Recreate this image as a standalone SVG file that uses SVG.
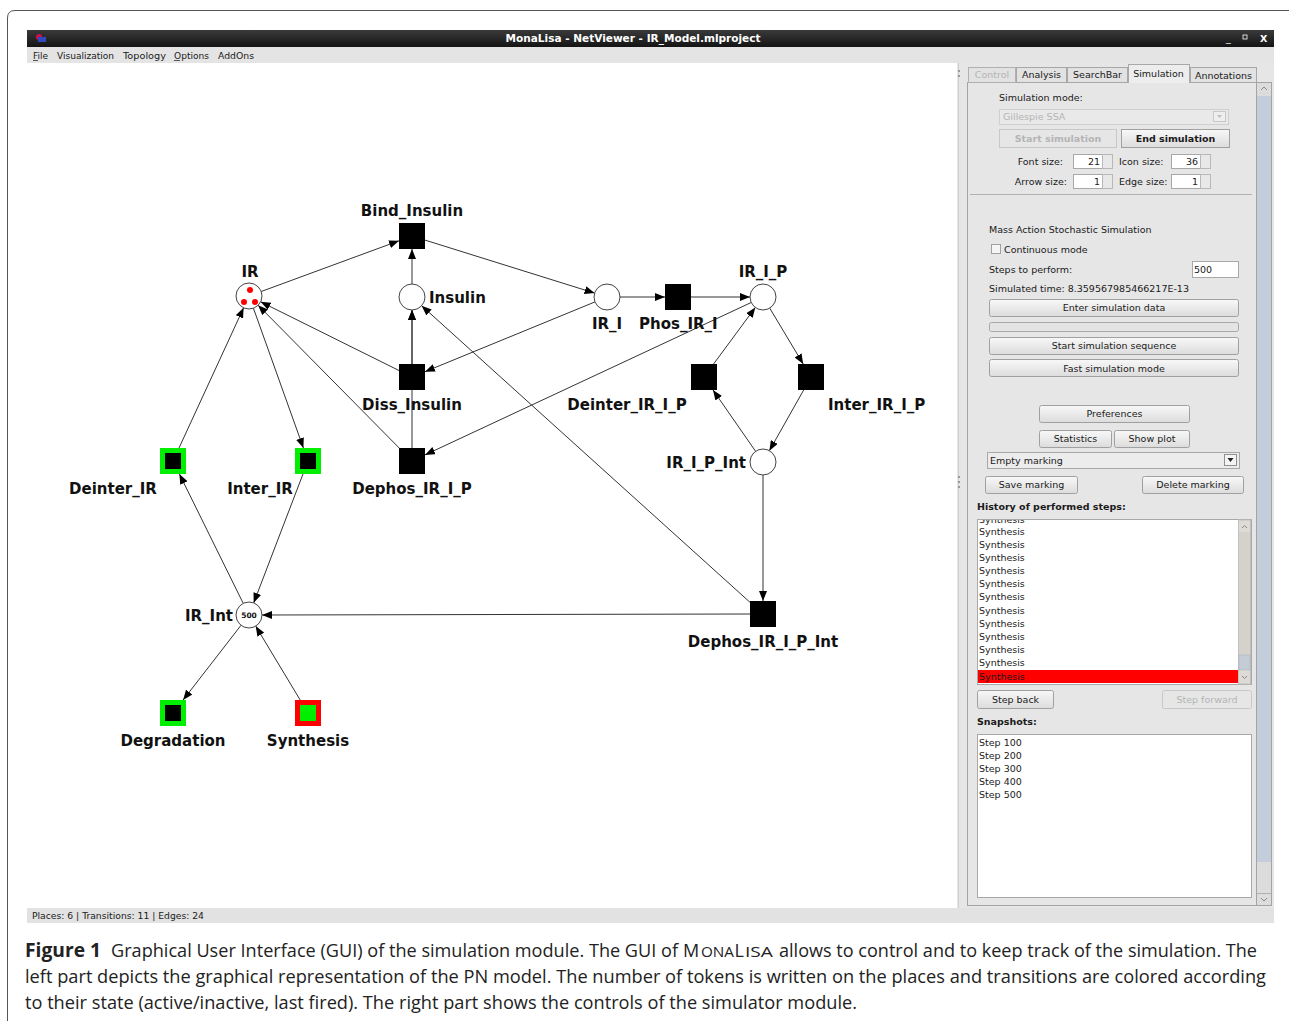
<svg xmlns="http://www.w3.org/2000/svg" width="1289" height="1021" viewBox="0 0 1289 1021">
<defs>
<linearGradient id="tb" x1="0" y1="0" x2="0" y2="1"><stop offset="0" stop-color="#3a3a3a"/><stop offset="1" stop-color="#141414"/></linearGradient>
<linearGradient id="bg" x1="0" y1="0" x2="0" y2="1"><stop offset="0" stop-color="#f8f8f8"/><stop offset="1" stop-color="#dcdcdc"/></linearGradient>
<clipPath id="listclip"><rect x="978" y="520" width="260" height="164"/></clipPath>
<marker id="arr" markerUnits="userSpaceOnUse" markerWidth="10" markerHeight="8" refX="10" refY="4" orient="auto"><path d="M0,0 L10,4 L0,8 z" fill="#000"/></marker>
<style>
.ui{font-family:"DejaVu Sans",sans-serif;font-size:9.5px;fill:#1a1a1a}
.menu{font-family:"DejaVu Sans",sans-serif;font-size:9px;fill:#1a1a1a}
.b{font-weight:bold}
.dis{fill:#b4b4b4}
.btn{fill:url(#bg);stroke:#a0a0a0;stroke-width:1}
.dbtn{fill:#e6e6e6;stroke:#c8c8c8;stroke-width:1}
.field{fill:#fff;stroke:#a8a8a8;stroke-width:1}
.lbl{font-family:"DejaVu Sans",sans-serif;font-weight:bold;font-size:15px;fill:#111}
.edge{stroke:#333;stroke-width:1;fill:none;marker-end:url(#arr)}
.place{fill:#fff;stroke:#444;stroke-width:1}
.trans{fill:#000}
.cap{font-family:"Open Sans","Liberation Sans",sans-serif;font-size:18px;fill:#222}
.sc{font-family:"Open Sans","Liberation Sans",sans-serif;font-size:14.5px;fill:#222}
</style>
</defs>
<rect x="0" y="0" width="1289" height="1021" fill="#fff"/>
<path d="M7.5,1021 V18 Q7.5,10.5 15,10.5 H1289" fill="none" stroke="#555" stroke-width="1"/>

<g id="window">
<rect x="27" y="30" width="1247" height="17" fill="url(#tb)"/>
<circle cx="39" cy="37" r="3" fill="#d0104a"/><rect x="38" y="37" width="8" height="5" fill="#3048c0"/>
<text x="633" y="42" text-anchor="middle" class="ui b" style="fill:#fff;font-size:10.5px" textLength="255" lengthAdjust="spacingAndGlyphs">MonaLisa - NetViewer - IR_Model.mlproject</text>
<text x="1226" y="42" class="ui" style="fill:#fff">_</text>
<rect x="1243" y="35" width="4" height="4" fill="none" stroke="#fff" stroke-width="0.8"/>
<text x="1260" y="42" class="ui b" style="fill:#fff">X</text>
<rect x="27" y="47" width="1247" height="16" fill="#e4e4e4"/>
<text x="33" y="59" class="menu">File</text><line x1="33" y1="60.5" x2="38" y2="60.5" stroke="#1a1a1a" stroke-width="0.7"/>
<text x="57" y="59" class="menu" textLength="57" lengthAdjust="spacingAndGlyphs">Visualization</text>
<text x="123" y="59" class="menu" textLength="43" lengthAdjust="spacingAndGlyphs">Topology</text>
<text x="174" y="59" class="menu" textLength="35" lengthAdjust="spacingAndGlyphs">Options</text>
<line x1="174" y1="60.5" x2="180" y2="60.5" stroke="#1a1a1a" stroke-width="0.7"/>
<text x="218" y="59" class="menu" textLength="36" lengthAdjust="spacingAndGlyphs">AddOns</text>
<rect x="27" y="63" width="930" height="845" fill="#fff"/>
<rect x="957" y="63" width="317" height="845" fill="#e6e6e6"/>
<line x1="958.5" y1="63" x2="958.5" y2="908" stroke="#cfcfcf"/>
<g fill="#9a9a9a"><rect x="958" y="70" width="2" height="2"/><rect x="958" y="75" width="2" height="2"/><rect x="958" y="476" width="2" height="2"/><rect x="958" y="481" width="2" height="2"/><rect x="958" y="486" width="2" height="2"/></g>
<rect x="27" y="908" width="1247" height="15" fill="#e2e2e2"/>
<text x="32" y="919" class="ui" style="font-size:9px" textLength="172" lengthAdjust="spacingAndGlyphs">Places: 6 | Transitions: 11 | Edges: 24</text>
</g>

<g id="panel">
<rect x="967.5" y="82.5" width="289" height="823" fill="#e6e6e6" stroke="#a4a4a4"/>
<rect x="968.5" y="67.5" width="47" height="15" fill="#e2e2e2" stroke="#b0b0b0"/>
<text x="992" y="78" text-anchor="middle" class="ui dis">Control</text>
<rect x="1016.5" y="67.5" width="50" height="15" fill="#e2e2e2" stroke="#a8a8a8"/>
<text x="1041.5" y="78" text-anchor="middle" class="ui">Analysis</text>
<rect x="1067.5" y="67.5" width="60" height="15" fill="#e2e2e2" stroke="#a8a8a8"/>
<text x="1097.5" y="78" text-anchor="middle" class="ui">SearchBar</text>
<rect x="1128.5" y="64.5" width="61" height="18" fill="#ededed" stroke="#a8a8a8"/>
<line x1="1129" y1="82.5" x2="1189" y2="82.5" stroke="#ededed"/>
<text x="1158.5" y="77" text-anchor="middle" class="ui">Simulation</text>
<rect x="1190.5" y="67.5" width="66" height="15" fill="#e2e2e2" stroke="#a8a8a8"/>
<text x="1223.5" y="79" text-anchor="middle" class="ui">Annotations</text>

<rect x="1256.5" y="82.5" width="15" height="823" fill="#dcdcdc" stroke="#a4a4a4"/>
<rect x="1257" y="96" width="14" height="766" fill="#c3ceda"/>
<path d="M1261,90 L1264,87 L1267,90" fill="none" stroke="#888"/>
<path d="M1261,898 L1264,901 L1267,898" fill="none" stroke="#888"/>
<line x1="1257" y1="893.5" x2="1271" y2="893.5" stroke="#b0b0b0"/>

<text x="999" y="101" class="ui">Simulation mode:</text>
<rect x="999.5" y="109.5" width="229" height="15" fill="#e9e9e9" stroke="#cfcfcf"/>
<text x="1003" y="120" class="ui dis">Gillespie SSA</text>
<rect x="1213.5" y="111.5" width="12" height="10" fill="#eee" stroke="#c8c8c8"/>
<path d="M1217,115 L1222,115 L1219.5,118 z" fill="#c0c0c0"/>
<rect x="999.5" y="129.5" width="117" height="18" class="dbtn"/>
<text x="1058" y="142" text-anchor="middle" class="ui b dis">Start simulation</text>
<rect x="1121.5" y="129.5" width="108" height="18" class="btn"/>
<text x="1175.5" y="142" text-anchor="middle" class="ui b">End simulation</text>

<text x="1063" y="165" text-anchor="end" class="ui">Font size:</text>
<rect x="1073.5" y="154.5" width="29" height="14" class="field"/><text x="1100" y="165" text-anchor="end" class="ui">21</text>
<rect x="1102.5" y="154.5" width="10" height="14" fill="#e8e8e8" stroke="#b8b8b8"/>
<text x="1119" y="165" class="ui">Icon size:</text>
<rect x="1171.5" y="154.5" width="29" height="14" class="field"/><text x="1198" y="165" text-anchor="end" class="ui">36</text>
<rect x="1200.5" y="154.5" width="10" height="14" fill="#e8e8e8" stroke="#b8b8b8"/>
<text x="1067" y="185" text-anchor="end" class="ui">Arrow size:</text>
<rect x="1073.5" y="174.5" width="29" height="14" class="field"/><text x="1100" y="185" text-anchor="end" class="ui">1</text>
<rect x="1102.5" y="174.5" width="10" height="14" fill="#e8e8e8" stroke="#b8b8b8"/>
<text x="1119" y="185" class="ui">Edge size:</text>
<rect x="1171.5" y="174.5" width="29" height="14" class="field"/><text x="1198" y="185" text-anchor="end" class="ui">1</text>
<rect x="1200.5" y="174.5" width="10" height="14" fill="#e8e8e8" stroke="#b8b8b8"/>
<line x1="970" y1="194.5" x2="1252" y2="194.5" stroke="#b0b0b0"/>

<text x="989" y="233" class="ui">Mass Action Stochastic Simulation</text>
<rect x="991.5" y="244.5" width="9" height="9" fill="#f4f4f4" stroke="#a0a0a0"/>
<text x="1004" y="253" class="ui">Continuous mode</text>
<text x="989" y="273" class="ui">Steps to perform:</text>
<rect x="1192.5" y="261.5" width="46" height="16" class="field"/>
<text x="1194" y="273" class="ui">500</text>
<text x="989" y="292" class="ui">Simulated time: 8.359567985466217E-13</text>
<rect x="989.5" y="299.5" width="249" height="17" class="btn" rx="2"/>
<text x="1114" y="311" text-anchor="middle" class="ui">Enter simulation data</text>
<rect x="989.5" y="322.5" width="249" height="9" fill="#e4e4e4" stroke="#a8a8a8" rx="2"/>
<rect x="989.5" y="337.5" width="249" height="17" class="btn" rx="2"/>
<text x="1114" y="349" text-anchor="middle" class="ui">Start simulation sequence</text>
<rect x="989.5" y="359.5" width="249" height="17" class="btn" rx="2"/>
<text x="1114" y="372" text-anchor="middle" class="ui">Fast simulation mode</text>

<rect x="1039.5" y="405.5" width="150" height="17" class="btn" rx="2"/>
<text x="1114.5" y="417" text-anchor="middle" class="ui">Preferences</text>
<rect x="1039.5" y="430.5" width="72" height="17" class="btn" rx="2"/>
<text x="1075.5" y="442" text-anchor="middle" class="ui">Statistics</text>
<rect x="1114.5" y="430.5" width="75" height="17" class="btn" rx="2"/>
<text x="1152" y="442" text-anchor="middle" class="ui">Show plot</text>
<rect x="987.5" y="452.5" width="252" height="16" fill="#ececec" stroke="#a8a8a8"/>
<text x="990" y="464" class="ui">Empty marking</text>
<rect x="1224.5" y="454.5" width="12" height="11" fill="#f4f4f4" stroke="#909090"/>
<path d="M1227.5,458 L1233.5,458 L1230.5,462 z" fill="#222"/>
<rect x="985.5" y="476.5" width="92" height="17" class="btn" rx="2"/>
<text x="1031.5" y="488" text-anchor="middle" class="ui">Save marking</text>
<rect x="1142.5" y="476.5" width="101" height="17" class="btn" rx="2"/>
<text x="1193" y="488" text-anchor="middle" class="ui">Delete marking</text>

<text x="977" y="510" class="ui b">History of performed steps:</text>
<rect x="977.5" y="519.5" width="274" height="165" fill="#fff" stroke="#a8a8a8"/>
<g class="ui" clip-path="url(#listclip)">
<text x="979" y="523">Synthesis</text>
<text x="979" y="535">Synthesis</text>
<text x="979" y="548">Synthesis</text>
<text x="979" y="561">Synthesis</text>
<text x="979" y="574">Synthesis</text>
<text x="979" y="587">Synthesis</text>
<text x="979" y="600">Synthesis</text>
<text x="979" y="614">Synthesis</text>
<text x="979" y="627">Synthesis</text>
<text x="979" y="640">Synthesis</text>
<text x="979" y="653">Synthesis</text>
<text x="979" y="666">Synthesis</text>
<rect x="978" y="670" width="260" height="13" fill="#ff0000"/>
<text x="979" y="680">Synthesis</text>
</g>
<rect x="1238.5" y="520" width="12" height="164" fill="#dedbd6" stroke="#c0c0c0"/>
<rect x="1239" y="532" width="11" height="123" fill="#d5d2cc"/>
<rect x="1239" y="655" width="11" height="15" fill="#c4ccd6" stroke="#a8b0ba" stroke-width="0.5"/>
<path d="M1242,528 L1244.5,525.5 L1247,528" fill="none" stroke="#888"/>
<path d="M1242,676 L1244.5,678.5 L1247,676" fill="none" stroke="#888"/>
<rect x="977.5" y="690.5" width="76" height="18" class="btn" rx="2"/>
<text x="1015.5" y="703" text-anchor="middle" class="ui">Step back</text>
<rect x="1162.5" y="690.5" width="89" height="18" class="dbtn" rx="2"/>
<text x="1207" y="703" text-anchor="middle" class="ui dis">Step forward</text>

<text x="977" y="725" class="ui b">Snapshots:</text>
<rect x="977.5" y="734.5" width="274" height="163" fill="#fff" stroke="#a8a8a8"/>
<text x="979" y="746" class="ui">Step 100</text>
<text x="979" y="759" class="ui">Step 200</text>
<text x="979" y="772" class="ui">Step 300</text>
<text x="979" y="785" class="ui">Step 400</text>
<text x="979" y="798" class="ui">Step 500</text>
</g>

<g id="connectors">
<line class="edge" x1="261.2" y1="291.5" x2="399" y2="240.8"/>
<line class="edge" x1="412" y1="284" x2="412" y2="249"/>
<line class="edge" x1="425" y1="240.1" x2="594.6" y2="293.1"/>
<line class="edge" x1="620" y1="297" x2="665" y2="297"/>
<line class="edge" x1="691" y1="297" x2="750" y2="297"/>
<line class="edge" x1="595" y1="301.9" x2="425" y2="371.7"/>
<line class="edge" x1="412" y1="364" x2="412" y2="310"/>
<line class="edge" x1="399" y1="370.5" x2="260.6" y2="301.8"/>
<line class="edge" x1="751.2" y1="302.5" x2="425" y2="454.9"/>
<line class="edge" x1="399.2" y1="448" x2="258.1" y2="305.2"/>
<line class="edge" x1="412" y1="448" x2="412" y2="310"/>
<line class="edge" x1="750" y1="602.3" x2="421.6" y2="305.7"/>
<line class="edge" x1="769.7" y1="308.1" x2="803.2" y2="364"/>
<line class="edge" x1="803.7" y1="390" x2="769.4" y2="450.7"/>
<line class="edge" x1="755.6" y1="451.3" x2="713" y2="390"/>
<line class="edge" x1="713.6" y1="364" x2="755.3" y2="307.5"/>
<line class="edge" x1="763" y1="475" x2="763" y2="601"/>
<line class="edge" x1="750" y1="614" x2="262" y2="615"/>
<line class="edge" x1="253.4" y1="308.2" x2="303.4" y2="448"/>
<line class="edge" x1="179" y1="448" x2="243.6" y2="307.8"/>
<line class="edge" x1="303" y1="474" x2="253.7" y2="602.9"/>
<line class="edge" x1="243.2" y1="603.3" x2="179.4" y2="474"/>
<line class="edge" x1="241" y1="625.3" x2="183.1" y2="700"/>
<line class="edge" x1="300.2" y1="700" x2="255.7" y2="626.1"/>
</g>

<g id="IR"><circle class="place" cx="249" cy="296" r="13"/><circle cx="250" cy="290" r="3" fill="#f00"/><circle cx="244" cy="302" r="3" fill="#f00"/><circle cx="255" cy="302" r="3" fill="#f00"/><text class="lbl" x="250" y="277" text-anchor="middle">IR</text></g>
<g id="Insulin"><circle class="place" cx="412" cy="297" r="13"/><text class="lbl" x="429" y="303">Insulin</text></g>
<g id="IR_I"><circle class="place" cx="607" cy="297" r="13"/><text class="lbl" x="607" y="329" text-anchor="middle">IR_I</text></g>
<g id="IR_I_P"><circle class="place" cx="763" cy="297" r="13"/><text class="lbl" x="763" y="277" text-anchor="middle">IR_I_P</text></g>
<g id="IR_I_P_Int"><circle class="place" cx="763" cy="462" r="13"/><text class="lbl" x="746" y="468" text-anchor="end">IR_I_P_Int</text></g>
<g id="IR_Int"><circle class="place" cx="249" cy="615" r="13"/><text x="249" y="618" text-anchor="middle" style="font-family:'DejaVu Sans',sans-serif;font-weight:bold;font-size:7.5px;fill:#111">500</text><text class="lbl" x="233" y="621" text-anchor="end">IR_Int</text></g>
<g id="Bind_Insulin"><rect class="trans" x="399" y="223" width="26" height="26"/><text class="lbl" x="412" y="216" text-anchor="middle">Bind_Insulin</text></g>
<g id="Phos_IR_I"><rect class="trans" x="665" y="284" width="26" height="26"/><text class="lbl" x="639" y="329">Phos_IR_I</text></g>
<g id="Diss_Insulin"><rect class="trans" x="399" y="364" width="26" height="26"/><text class="lbl" x="412" y="410" text-anchor="middle">Diss_Insulin</text></g>
<g id="Deinter_IR_I_P"><rect class="trans" x="691" y="364" width="26" height="26"/><text class="lbl" x="627" y="410" text-anchor="middle">Deinter_IR_I_P</text></g>
<g id="Inter_IR_I_P"><rect class="trans" x="798" y="364" width="26" height="26"/><text class="lbl" x="828" y="410">Inter_IR_I_P</text></g>
<g id="Dephos_IR_I_P"><rect class="trans" x="399" y="448" width="26" height="26"/><text class="lbl" x="412" y="494" text-anchor="middle">Dephos_IR_I_P</text></g>
<g id="Dephos_IR_I_P_Int"><rect class="trans" x="750" y="601" width="26" height="26"/><text class="lbl" x="763" y="647" text-anchor="middle">Dephos_IR_I_P_Int</text></g>
<g id="Deinter_IR"><rect x="160" y="448" width="26" height="26" fill="#00ee00"/><rect class="trans" x="165" y="453" width="16" height="16"/><text class="lbl" x="113" y="494" text-anchor="middle">Deinter_IR</text></g>
<g id="Inter_IR"><rect x="295" y="448" width="26" height="26" fill="#00ee00"/><rect class="trans" x="300" y="453" width="16" height="16"/><text class="lbl" x="260" y="494" text-anchor="middle">Inter_IR</text></g>
<g id="Degradation"><rect x="160" y="700" width="26" height="26" fill="#00ee00"/><rect class="trans" x="165" y="705" width="16" height="16"/><text class="lbl" x="173" y="746" text-anchor="middle">Degradation</text></g>
<g id="Synthesis"><rect x="295" y="700" width="26" height="26" fill="#ff0000"/><rect x="300" y="705" width="16" height="16" fill="#00ee00"/><text class="lbl" x="308" y="746" text-anchor="middle">Synthesis</text></g>

<g id="caption">
<text x="25" y="957" class="cap b" style="font-size:19px" textLength="76" lengthAdjust="spacingAndGlyphs">Figure 1</text>
<text x="111" y="957" class="cap" textLength="567" lengthAdjust="spacingAndGlyphs">Graphical User Interface (GUI) of the simulation module. The GUI of</text>
<text x="683" y="957" class="cap">M</text>
<text x="701" y="957" class="sc" textLength="33" lengthAdjust="spacingAndGlyphs">ONA</text>
<text x="734.5" y="957" class="cap">L</text>
<text x="745" y="957" class="sc" textLength="28" lengthAdjust="spacingAndGlyphs">ISA</text>
<text x="779" y="957" class="cap" textLength="478" lengthAdjust="spacingAndGlyphs">allows to control and to keep track of the simulation. The</text>
<text x="25" y="983" class="cap" textLength="1241" lengthAdjust="spacingAndGlyphs">left part depicts the graphical representation of the PN model. The number of tokens is written on the places and transitions are colored according</text>
<text x="25" y="1009" class="cap" textLength="832" lengthAdjust="spacingAndGlyphs">to their state (active/inactive, last fired). The right part shows the controls of the simulator module.</text>
</g>
</svg>
